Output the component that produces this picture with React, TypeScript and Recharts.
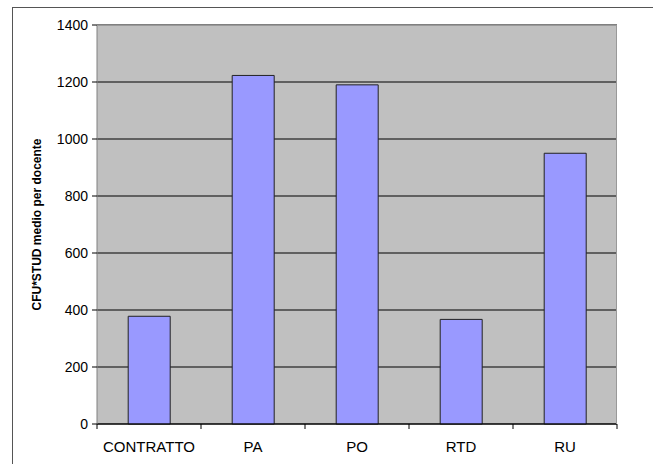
import { BarChart, Bar, XAxis, YAxis, CartesianGrid } from 'recharts';

const categories = ['CONTRATTO', 'PA', 'PO', 'RTD', 'RU'];
const cfuStud = [378, 1223, 1190, 367, 950];
const yTicks = [0, 200, 400, 600, 800, 1000, 1200, 1400];

const data = categories.map((name, i) => ({ name, value: cfuStud[i] }));

const FONT = "'Liberation Sans', Arial, sans-serif";
const PLOT_LEFT = 97;
const PLOT_RIGHT = 617;
const BAND = (PLOT_RIGHT - PLOT_LEFT) / categories.length;

// tick marks in the original sit on category boundaries, not centres
function CategoryTick(props: any) {
  const { x, y, payload, index } = props;
  const top = y - 8;
  return (
    <g>
      {index === 0 && (
        <line x1={x - BAND / 2} x2={x - BAND / 2} y1={top} y2={top + 5} stroke="#000" />
      )}
      <line x1={x + BAND / 2} x2={x + BAND / 2} y1={top} y2={top + 5} stroke="#000" />
      <text x={x} y={top + 28} textAnchor="middle" fontSize={15} fill="#000" fontFamily={FONT}>
        {payload.value}
      </text>
    </g>
  );
}

function YLabel() {
  const cx = 37;
  const cy = 224.5;
  return (
    <text x={cx} y={cy} transform={`rotate(-90 ${cx} ${cy})`} textAnchor="middle"
      dominantBaseline="central" fontSize={12} fontWeight="bold" fill="#000" fontFamily={FONT}>
      CFU*STUD medio per docente
    </text>
  );
}

export default function App() {
  return (
    <div style={{ position: 'fixed', left: 0, top: 0, width: 653, height: 464, background: '#fff', overflow: 'hidden' }}>
      <div style={{ position: 'absolute', left: 12, top: 7, width: 700, height: 500, borderLeft: '1px solid #555', borderTop: '1px solid #555' }} />
      <div style={{ position: 'absolute', left: 0, top: 0 }}>
        <BarChart width={653} height={464} data={data}
          margin={{ top: 25, right: 36, bottom: 10, left: 37 }}
          barCategoryGap="30%">
          <CartesianGrid vertical={false} horizontal fill="#C0C0C0" stroke="#000" strokeOpacity={1} />
          <XAxis dataKey="name" height={30} axisLine={{ stroke: '#000' }} tickLine={false}
            tick={<CategoryTick />} interval={0} />
          <YAxis domain={[0, 1400]} ticks={yTicks} width={60} interval={0}
            axisLine={{ stroke: '#808080' }} tickLine={{ stroke: '#000' }} tickSize={5} tickMargin={4}
            tick={{ fontSize: 14, fill: '#000', fontFamily: FONT }}
            label={<YLabel />} />
          <Bar dataKey="value" fill="#9999FF" stroke="#222" strokeWidth={1} isAnimationActive={false} />
        </BarChart>
      </div>
      <div style={{ position: 'absolute', left: PLOT_LEFT, top: 25, width: PLOT_RIGHT - PLOT_LEFT, height: 399, borderRight: '1px solid #999', borderTop: '1px solid #999', boxSizing: 'border-box', pointerEvents: 'none' }} />
    </div>
  );
}
